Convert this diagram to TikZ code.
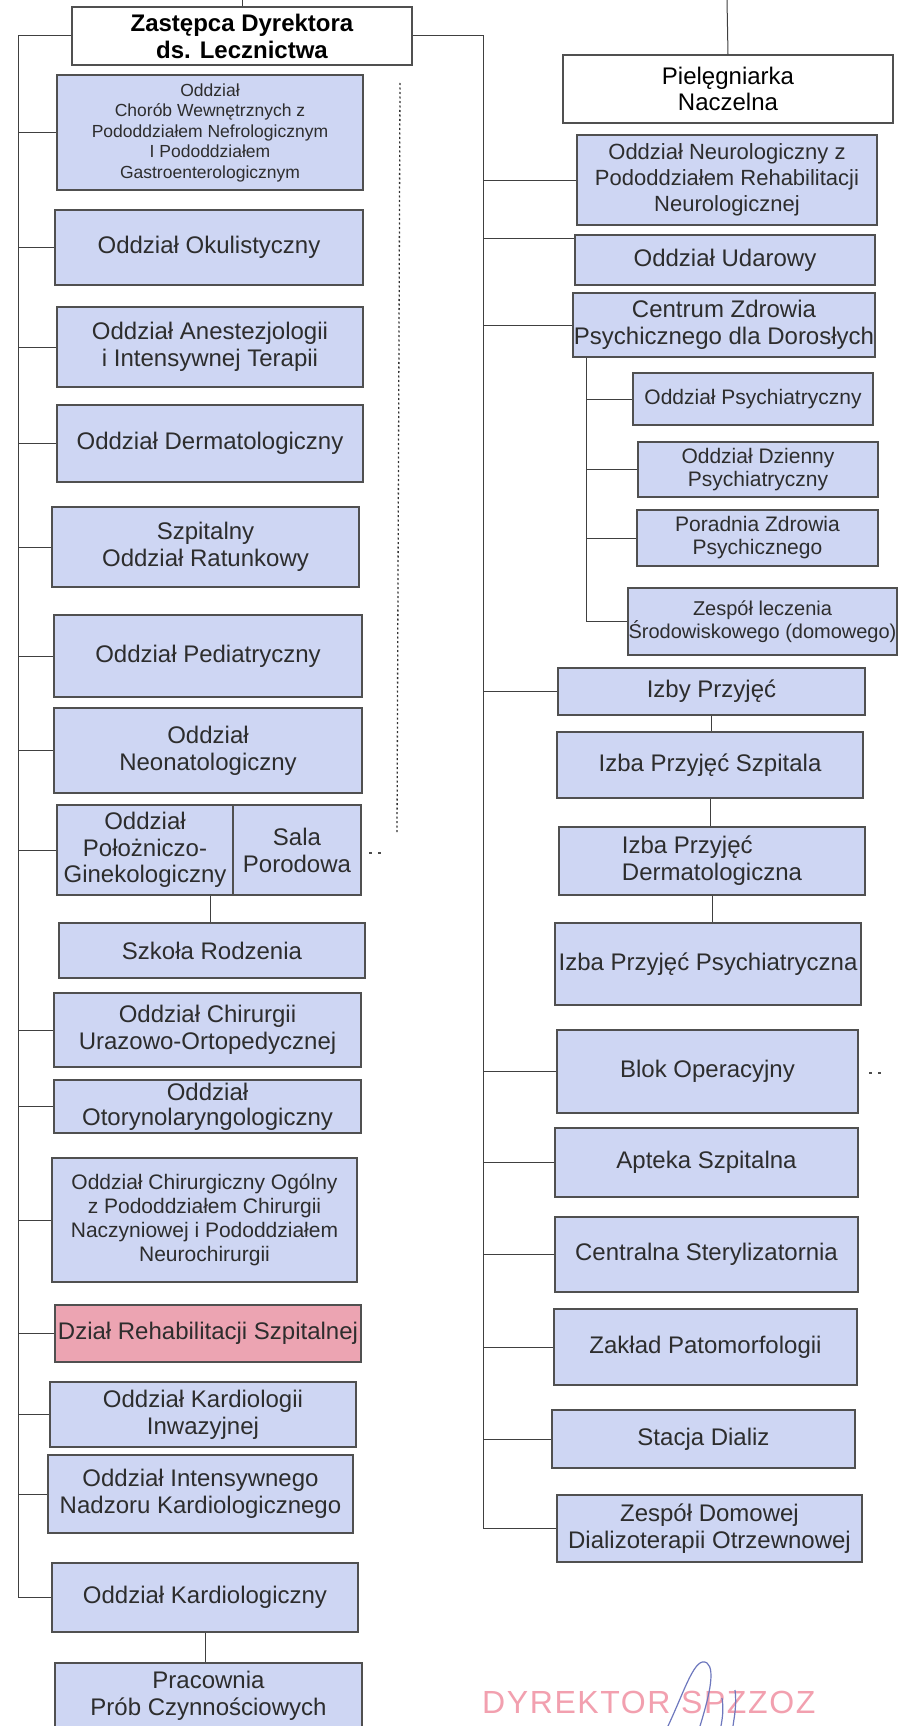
\documentclass[tikz,border=0pt]{standalone}
\usepackage{fontspec}
\setmainfont{Liberation Sans}
\newfontfamily\stampfont[LetterSpace=5]{Liberation Sans}
\usetikzlibrary{calc}
\definecolor{boxfill}{RGB}{206,214,243}
\definecolor{pinkfill}{RGB}{236,164,178}
\definecolor{edgec}{RGB}{80,80,80}
\definecolor{txt}{RGB}{45,45,45}
\definecolor{stampc}{RGB}{242,160,175}
\definecolor{sigc}{RGB}{110,120,190}
\newcommand{\obox}[7][]{\node[bx,minimum width={(#5)-(#3)},minimum height={(#6)-(#4)},#1] (#2) at ({((#3)+(#5))/2},{((#4)+(#6))/2}) {#7};}
\tikzset{
  bx/.style={draw=edgec, line width=1.1pt, fill=boxfill, text=txt, align=center, inner sep=1pt, font=\fontsize{24}{27}\selectfont},
  wbox/.style={fill=white, text=black},
  ln/.style={draw=black!75, line width=1pt},
  dotl/.style={draw=black!80, line width=1.3pt, dash pattern=on 2pt off 2.5pt},
  markl/.style={draw=black!70, line width=1.2pt, dash pattern=on 3pt off 6pt},
  sigline/.style={draw=sigc, line width=1.2pt}
}
\begin{document}
\begin{tikzpicture}[x=1pt,y=-1pt]
\useasboundingbox (0,0) rectangle (904,1726);
\fill[white] (0,0) rectangle (904,1726);

% top level
\obox[wbox,font=\bfseries\fontsize{24}{27}\selectfont]{zast}{72}{7}{412}{65}{Zastępca Dyrektora\\ds. Lecznictwa}
\obox[wbox,font=\fontsize{24}{26}\selectfont]{piel}{563}{55}{893}{123}{Pielęgniarka\\Naczelna}

% left column
\obox[font=\fontsize{17.5}{20.5}\selectfont]{chor}{57}{75}{363}{190}{Oddział\\Chorób Wewnętrznych z\\Pododdziałem Nefrologicznym\\I Pododdziałem\\Gastroenterologicznym}
\obox{okul}{55}{210}{363}{285}{Oddział Okulistyczny}
\obox{anest}{57}{307}{363}{387}{Oddział Anestezjologii\\i Intensywnej Terapii}
\obox{derm}{57}{405}{363}{482}{Oddział Dermatologiczny}
\obox{ratun}{52}{507}{359}{587}{Szpitalny\\Oddział Ratunkowy}
\obox{pedia}{54}{615}{362}{697}{Oddział Pediatryczny}
\obox{neona}{54}{708}{362}{793}{Oddział\\Neonatologiczny}
\obox[font=\fontsize{24}{26.5}\selectfont]{polA}{57}{805}{233}{895}{Oddział\\Położniczo-\\Ginekologiczny}
\obox{polB}{233}{805}{361}{895}{Sala\\Porodowa}
\obox{szkola}{59}{923}{365}{978}{Szkoła Rodzenia}
\obox{uraz}{54}{993}{361}{1067}{Oddział Chirurgii\\Urazowo-Ortopedycznej}
\obox[font=\fontsize{24}{25}\selectfont,inner sep=0pt]{otor}{54}{1080}{361}{1133}{Oddział\\Otorynolaryngologiczny}
\obox[font=\fontsize{21}{24}\selectfont]{ogol}{52}{1158}{357}{1282}{Oddział Chirurgiczny Ogólny\\z Pododdziałem Chirurgii\\Naczyniowej i Pododdziałem\\Neurochirurgii}
\obox[fill=pinkfill]{rehab}{55}{1305}{361}{1362}{Dział Rehabilitacji Szpitalnej}
\obox{kinw}{50}{1382}{356}{1447}{Oddział Kardiologii\\Inwazyjnej}
\obox{onkard}{48}{1455}{353}{1533}{Oddział Intensywnego\\Nadzoru Kardiologicznego}
\obox{kard}{52}{1563}{358}{1632}{Oddział Kardiologiczny}
\obox{prac}{55}{1663}{362}{1729}{Pracownia\\Prób Czynnościowych}

% right column
\obox[font=\fontsize{22}{26}\selectfont]{neuro}{577}{135}{877}{225}{Oddział Neurologiczny z\\Pododdziałem Rehabilitacji\\Neurologicznej}
\obox{udar}{575}{235}{875}{285}{Oddział Udarowy}
\obox[inner sep=0pt]{centr}{573}{293}{875}{357}{Centrum Zdrowia\\Psychicznego dla Dorosłych}
\obox[font=\fontsize{21}{23}\selectfont]{psych}{633}{373}{873}{425}{Oddział Psychiatryczny}
\obox[font=\fontsize{21}{23}\selectfont]{dzien}{638}{442}{878}{497}{Oddział Dzienny\\Psychiatryczny}
\obox[font=\fontsize{21}{23}\selectfont]{porad}{637}{510}{878}{566}{Poradnia Zdrowia\\Psychicznego}
\obox[font=\fontsize{20}{23}\selectfont,inner sep=0pt]{zesp}{628}{588}{897}{655}{Zespół leczenia\\Środowiskowego (domowego)}
\obox{izby}{558}{668}{865}{715}{Izby Przyjęć}
\obox{izszp}{557}{732}{863}{798}{Izba Przyjęć Szpitala}
\obox[align=left]{izderm}{559}{827}{865}{895}{Izba Przyjęć\\Dermatologiczna}
\obox{izpsy}{555}{923}{861}{1005}{Izba Przyjęć Psychiatryczna}
\obox{blok}{557}{1030}{858}{1113}{Blok Operacyjny}
\obox{apt}{555}{1128}{858}{1197}{Apteka Szpitalna}
\obox{ster}{555}{1217}{858}{1292}{Centralna Sterylizatornia}
\obox{patom}{554}{1309}{857}{1385}{Zakład Patomorfologii}
\obox{dializ}{552}{1410}{855}{1468}{Stacja Dializ}
\obox{domow}{557}{1495}{862}{1562}{Zespół Domowej\\Dializoterapii Otrzewnowej}

% trunks
\coordinate (L) at (18,0);
\coordinate (R) at (483,0);
\coordinate (top1) at (242,0);
\coordinate (top2) at (727,0);
\draw[ln] (zast.north) -- (top1);
\draw[ln] (piel.north) -- (top2);
\draw[ln] (zast.west) -- (zast.west -| L) -- (kard.west -| L) -- (kard.west);
\draw[ln] (zast.east) -- (zast.east -| R) -- (domow.west -| R) -- (domow.west);
\foreach \n in {chor,okul,anest,derm,ratun,pedia,neona,polA,uraz,otor,ogol,rehab,kinw,onkard}
  \draw[ln] (\n.west -| L) -- (\n.west);
\foreach \n in {neuro,centr,izby,blok,apt,ster,patom,dializ}
  \draw[ln] (\n.west -| R) -- (\n.west);
\path ($(udar.west)+(0,-22)$) coordinate (udarc);
\draw[ln] (udarc -| R) -- (udarc);

% sub-trunk of Centrum
\coordinate (S) at ($(centr.south west)+(14,0)$);
\draw[ln] (S) -- (zesp.west -| S);
\foreach \n in {psych,dzien,porad,zesp}
  \draw[ln] (\n.west -| S) -- (\n.west);

% vertical chains
\draw[ln] (izby.south) -- (izby.south |- izszp.north);
\draw[ln] (izszp.south) -- (izszp.south |- izderm.north);
\draw[ln] (izderm.south) -- (izderm.south |- izpsy.north);
\coordinate (pc) at ($(polA.south east)+(-23,0)$);
\draw[ln] (pc) -- (pc |- szkola.north);
\draw[ln] (kard.south) -- (kard.south |- prac.north);

% dotted line and marks
\coordinate (d1) at (400,83);
\coordinate (d2) at (397,833);
\draw[dotl] (d1) -- (d2);
\coordinate (m1) at (369,853);
\coordinate (m2) at (381,853);
\draw[markl] (m1) -- (m2);
\coordinate (m3) at (869,1073);
\coordinate (m4) at (881,1073);
\draw[markl] (m3) -- (m4);

% stamp and signature
\node[text=stampc, font=\stampfont\fontsize{32}{32}\selectfont, anchor=base west, inner sep=0pt] (stampt) at (482,1713) {DYREKTOR SPZZOZ};
\draw[sigline] (668,1726) .. controls (685,1690) and (695,1655) .. (707,1663) .. controls (716,1670) and (708,1700) .. (700,1726);
\draw[sigline] (722,1698) .. controls (724,1710) and (722,1720) .. (721,1726);
\draw[sigline] (735,1690) .. controls (737,1705) and (734,1718) .. (733,1726);
\end{tikzpicture}
\end{document}
